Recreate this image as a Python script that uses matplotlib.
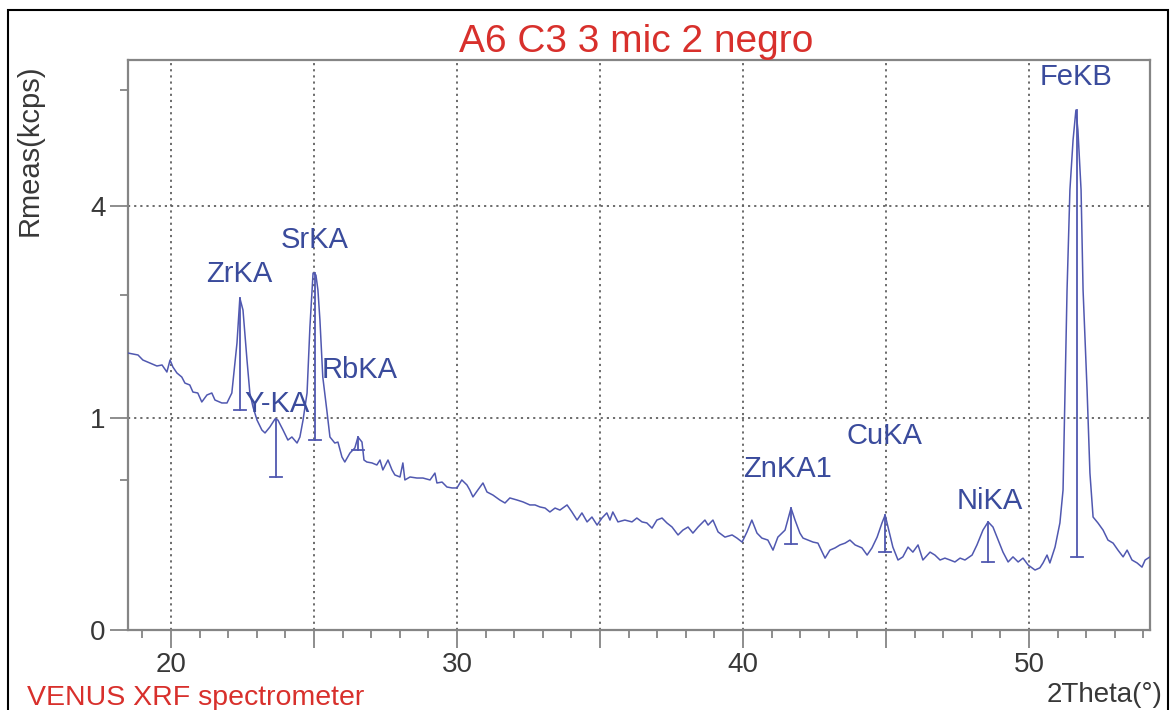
import numpy as np
import matplotlib
matplotlib.use('Agg')
import matplotlib.pyplot as plt
from matplotlib.patches import Rectangle
from matplotlib.ticker import FixedLocator, FixedFormatter

plt.rcParams['font.family'] = ['Liberation Sans', 'DejaVu Sans']

# ---- spectrum (2Theta in degrees, Rmeas in kcps) ----
theta = [18.50, 18.85, 19.02, 19.27, 19.51, 19.69, 19.86, 19.97, 20.07, 20.21,
         20.38, 20.49, 20.66, 20.77, 20.94, 21.08, 21.26, 21.43, 21.54, 21.78,
         21.96, 22.13, 22.31, 22.41, 22.52, 22.66, 22.76, 22.87, 23.01, 23.18,
         23.29, 23.46, 23.64, 23.74, 23.92, 24.09, 24.23, 24.41, 24.51, 24.62,
         24.76, 24.86, 24.97, 25.07, 25.14, 25.21, 25.31, 25.45, 25.56, 25.73,
         25.84, 25.98, 26.08, 26.26, 26.43, 26.54, 26.68, 26.75, 26.85, 27.03,
         27.20, 27.31, 27.41, 27.59, 27.73, 27.83, 28.01, 28.11, 28.18, 28.36,
         28.60, 28.81, 29.06, 29.23, 29.30, 29.48, 29.65, 29.83, 30.00, 30.17,
         30.35, 30.45, 30.56, 30.73, 30.91, 31.05, 31.26, 31.50, 31.68, 31.85,
         32.10, 32.31, 32.55, 32.73, 32.90, 33.08, 33.25, 33.43, 33.60, 33.85,
         34.02, 34.20, 34.37, 34.55, 34.72, 34.90, 35.07, 35.24, 35.35, 35.45,
         35.63, 35.87, 36.12, 36.29, 36.47, 36.64, 36.82, 36.99, 37.17, 37.34,
         37.52, 37.73, 37.90, 38.08, 38.25, 38.43, 38.67, 38.78, 38.95, 39.13,
         39.37, 39.62, 39.79, 39.97, 40.14, 40.31, 40.49, 40.66, 40.87, 41.05,
         41.22, 41.47, 41.68, 41.82, 41.99, 42.10, 42.27, 42.45, 42.62, 42.87,
         43.04, 43.22, 43.39, 43.57, 43.74, 43.92, 44.16, 44.34, 44.51, 44.69,
         44.86, 44.97, 45.07, 45.24, 45.42, 45.59, 45.77, 45.94, 46.12, 46.29,
         46.54, 46.71, 46.89, 47.06, 47.24, 47.41, 47.59, 47.76, 48.01, 48.18,
         48.39, 48.57, 48.74, 48.92, 49.09, 49.27, 49.44, 49.62, 49.79, 49.97,
         50.21, 50.38, 50.49, 50.63, 50.73, 50.91, 51.08, 51.19, 51.26, 51.33,
         51.43, 51.54, 51.64, 51.71, 51.82, 51.89, 52.03, 52.13, 52.24, 52.41,
         52.59, 52.76, 52.94, 53.11, 53.29, 53.43, 53.60, 53.78, 53.95, 54.06,
         54.23]
rmeas = [1.707, 1.683, 1.622, 1.586, 1.551, 1.563, 1.481, 1.622, 1.539, 1.470,
         1.424, 1.357, 1.336, 1.260, 1.250, 1.157, 1.229, 1.250, 1.177, 1.147,
         1.147, 1.250, 1.833, 2.452, 2.278, 1.622, 1.250, 1.107, 0.981, 0.890,
         0.864, 0.917, 0.991, 0.981, 0.890, 0.803, 0.829, 0.778, 0.829, 0.981,
         1.250, 2.043, 2.836, 2.804, 2.572, 2.138, 1.424, 1.077, 0.829, 0.778,
         0.786, 0.666, 0.628, 0.697, 0.737, 0.829, 0.786, 0.643, 0.628, 0.621,
         0.606, 0.643, 0.570, 0.643, 0.570, 0.535, 0.521, 0.621, 0.501, 0.521,
         0.514, 0.514, 0.501, 0.548, 0.481, 0.487, 0.455, 0.449, 0.449, 0.501,
         0.468, 0.436, 0.394, 0.436, 0.481, 0.424, 0.405, 0.376, 0.359, 0.388,
         0.376, 0.365, 0.348, 0.348, 0.337, 0.331, 0.310, 0.331, 0.320, 0.348,
         0.310, 0.269, 0.305, 0.260, 0.284, 0.245, 0.279, 0.305, 0.269, 0.310,
         0.260, 0.269, 0.260, 0.279, 0.260, 0.255, 0.231, 0.269, 0.279, 0.255,
         0.236, 0.201, 0.222, 0.236, 0.209, 0.236, 0.269, 0.245, 0.269, 0.214,
         0.192, 0.201, 0.188, 0.172, 0.214, 0.269, 0.209, 0.188, 0.180, 0.142,
         0.192, 0.222, 0.331, 0.269, 0.209, 0.188, 0.180, 0.172, 0.168, 0.115,
         0.142, 0.150, 0.161, 0.168, 0.180, 0.161, 0.150, 0.125, 0.150, 0.192,
         0.255, 0.294, 0.236, 0.153, 0.109, 0.119, 0.153, 0.135, 0.161, 0.109,
         0.135, 0.125, 0.109, 0.115, 0.109, 0.103, 0.115, 0.109, 0.125, 0.161,
         0.222, 0.260, 0.236, 0.180, 0.135, 0.103, 0.119, 0.103, 0.115, 0.094,
         0.080, 0.086, 0.100, 0.125, 0.100, 0.153, 0.255, 0.436, 1.282, 2.572,
         4.308, 5.342, 6.016, 5.563, 4.308, 2.572, 1.282, 0.548, 0.284, 0.255,
         0.222, 0.180, 0.168, 0.142, 0.119, 0.142, 0.109, 0.100, 0.088, 0.109,
         0.119]

# ---- peak markers and labels ----
peak_names = ['ZrKA', 'Y-KA', 'SrKA', 'RbKA', 'ZnKA1', 'CuKA', 'NiKA', 'FeKB']
peak_theta = [22.41, 23.67, 25.03, 26.54, 41.68, 44.97, 48.57, 51.68]
peak_top = [2.452, 0.991, 2.836, 0.829, 0.331, 0.294, 0.260, 6.016]
peak_base = [1.077, 0.521, 0.803, 0.721, 0.165, 0.135, 0.103, 0.119]
label_theta = [22.38, 23.72, 25.03, 26.59, 41.56, 44.95, 48.62, 51.66]
label_base = [2.695, 1.057, 3.247, 1.413, 0.521, 0.770, 0.326, 6.609]

x_major = [20, 25, 30, 35, 40, 45, 50]
x_major_labels = ['20', '', '30', '', '40', '', '50']
y_major = [0, 1, 4]
y_major_labels = ['0', '1', '4']
y_minor = [0.5, 2.5, 6.5]

title = 'A6 C3 3 mic 2 negro'
xlabel = '2Theta(°)'
ylabel = 'Rmeas(kcps)'
footer = 'VENUS XRF spectrometer'

# ---- styling ----
W, H = 1173, 710
LINE = '#5058b0'
LABEL = '#3a4b9c'
RED = '#d8302c'
GRAY = '#858585'
TXT = '#383838'

fig = plt.figure(figsize=(W / 100, H / 100), dpi=100)
fig.patch.set_facecolor('white')
ax = fig.add_axes([128 / W, 1 - 630 / H, (1150 - 128) / W, (630 - 60) / H])

ax.set_yscale('function', functions=(lambda v: np.sqrt(np.clip(v, 0, None)),
                                     lambda v: np.square(v)))
ax.set_xlim(18.5, 54.23)
ax.set_ylim(0, 7.23)

ax.plot(theta, rmeas, color=LINE, lw=1.1, zorder=3)

for name, t, top, base, lt, lb in zip(peak_names, peak_theta, peak_top,
                                      peak_base, label_theta, label_base):
    ax.plot([t, t], [base, top], color=LINE, lw=1.3, zorder=3)
    ax.plot([t - 0.2, t + 0.2], [base, base], color=LINE, lw=1.3, zorder=3)
    ax.text(lt, lb, name, color=LABEL, fontsize=21, ha='center',
            va='baseline', zorder=4)

ax.xaxis.set_major_locator(FixedLocator(x_major))
ax.xaxis.set_major_formatter(FixedFormatter(x_major_labels))
ax.xaxis.set_minor_locator(FixedLocator(np.arange(19, 55, 1)))
ax.yaxis.set_major_locator(FixedLocator(y_major))
ax.yaxis.set_major_formatter(FixedFormatter(y_major_labels))
ax.yaxis.set_minor_locator(FixedLocator(y_minor))

ax.tick_params(axis='both', which='major', length=13, width=1.3, color=GRAY,
               labelsize=20, labelcolor=TXT, pad=3)
ax.tick_params(axis='both', which='minor', length=6, width=1.3, color=GRAY)

ax.grid(True, which='major', linestyle=(0, (1.2, 2.2)), color='#606060', lw=1.3)
ax.set_axisbelow(True)
for s in ax.spines.values():
    s.set_color(GRAY)
    s.set_linewidth(1.6)

fig.text(636 / W, 1 - 52 / H, title, color=RED, fontsize=28, ha='center',
         va='baseline')
fig.text(30 / W, 1 - 150 / H, ylabel, color=TXT, fontsize=21, rotation=90,
         ha='center', va='center')
fig.text(1105 / W, 1 - 695 / H, xlabel, color=TXT, fontsize=20, ha='center',
         va='center')
fig.text(27 / W, 1 - 705 / H, footer, color=RED, fontsize=20.5, ha='left',
         va='baseline')

fig.add_artist(Rectangle((8 / W, -0.02), (1168 - 8) / W, 1 - 10 / H + 0.02,
                         transform=fig.transFigure, fill=False, edgecolor='black',
                         lw=1.5))

fig.savefig('out.png', dpi=100, facecolor='white')
